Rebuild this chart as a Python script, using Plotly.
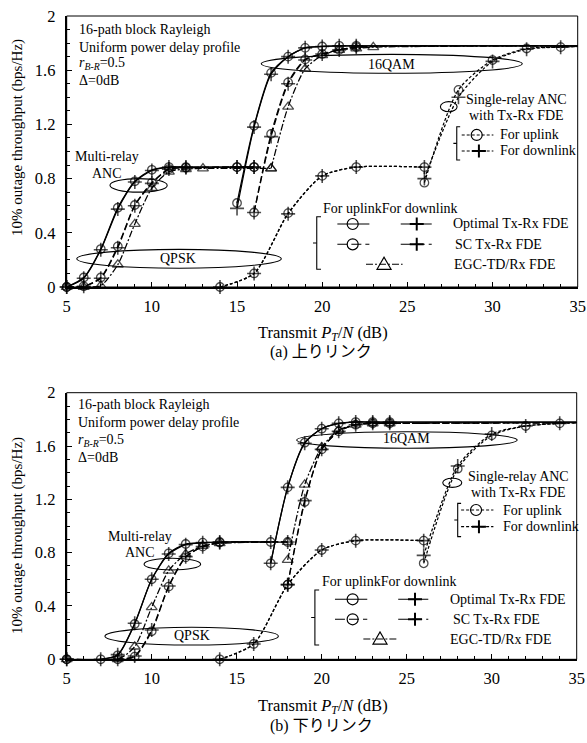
import plotly.graph_objects as go

SERIF = "Liberation Serif, Times New Roman, serif"
JP = "Liberation Serif, Noto Sans CJK JP, sans-serif"

# ---------------- data : panel (a) uplink ----------------
A_OPT_QPSK_X = [5, 6, 7, 8, 9, 10, 11, 12, 15, 16]
A_OPT_QPSK_UP = [0, 0.07, 0.28, 0.585, 0.78, 0.865, 0.885, 0.885, 0.885, 0.885]
A_OPT_QPSK_DN = [0, 0.065, 0.275, 0.575, 0.775, 0.86, 0.885, 0.885, 0.885, 0.885]
A_OPT_QAM_X = [15, 16, 17, 18, 19, 20, 21, 22, 35]
A_OPT_QAM_UP = [0.62, 1.19, 1.58, 1.70, 1.765, 1.775, 1.78, 1.78, 1.78]
A_OPT_QAM_DN = [0.58, 1.18, 1.57, 1.70, 1.765, 1.775, 1.78, 1.78, 1.78]
A_SC_QPSK_X = [5, 6, 7, 8, 9, 10, 11, 12, 15, 16]
A_SC_QPSK_UP = [0, 0.005, 0.07, 0.30, 0.605, 0.77, 0.87, 0.88, 0.885, 0.885]
A_SC_QPSK_DN = [0, 0.005, 0.065, 0.29, 0.60, 0.765, 0.87, 0.88, 0.885, 0.885]
A_SC_QAM_X = [16, 17, 18, 19, 20, 21, 22, 35]
A_SC_QAM_UP = [0.55, 1.13, 1.51, 1.68, 1.72, 1.75, 1.77, 1.78]
A_SC_QAM_DN = [0.55, 1.11, 1.50, 1.675, 1.72, 1.75, 1.77, 1.78]
A_EGC_QPSK_X = [5, 6, 7, 8, 9, 10, 11, 12, 13, 17]
A_EGC_QPSK = [0, 0, 0.01, 0.165, 0.465, 0.73, 0.85, 0.87, 0.875, 0.875]
A_EGC_QAM_X = [17, 18, 19, 20, 21, 22, 23, 35]
A_EGC_QAM = [0.875, 1.33, 1.61, 1.71, 1.75, 1.76, 1.77, 1.78]
A_SR_QPSK_X = [14, 16, 18, 20, 22, 26]
A_SR_QPSK_UP = [0, 0.10, 0.545, 0.82, 0.885, 0.885]
A_SR_QPSK_DN = [0, 0.10, 0.54, 0.82, 0.885, 0.885]
A_SR_QAM_X = [26, 28, 30, 32, 34, 35]
A_SR_QAM_UP = [0.77, 1.455, 1.675, 1.76, 1.77, 1.775]
A_SR_QAM_DN = [0.80, 1.40, 1.665, 1.755, 1.77, 1.775]

# ---------------- data : panel (b) downlink ----------------
B_OPT_QPSK_X = [5, 7, 8, 9, 10, 11, 12, 13, 14, 17]
B_OPT_QPSK_UP = [0, 0, 0.03, 0.265, 0.60, 0.795, 0.865, 0.875, 0.88, 0.88]
B_OPT_QPSK_DN = [0, 0, 0.035, 0.27, 0.60, 0.79, 0.86, 0.875, 0.88, 0.88]
B_OPT_QAM_X = [17, 18, 19, 20, 21, 22, 23, 24, 35]
B_OPT_QAM_UP = [0.72, 1.29, 1.625, 1.73, 1.77, 1.78, 1.78, 1.78, 1.78]
B_OPT_QAM_DN = [0.72, 1.29, 1.62, 1.73, 1.77, 1.78, 1.78, 1.78, 1.78]
B_SC_QPSK_X = [5, 8, 9, 10, 11, 12, 13, 14, 18]
B_SC_QPSK_UP = [0, 0, 0.02, 0.21, 0.545, 0.765, 0.845, 0.875, 0.88]
B_SC_QPSK_DN = [0, 0, 0.025, 0.22, 0.55, 0.77, 0.845, 0.875, 0.88]
B_SC_QAM_X = [18, 19, 20, 21, 22, 23, 24, 35]
B_SC_QAM_UP = [0.56, 1.18, 1.575, 1.71, 1.76, 1.77, 1.77, 1.775]
B_SC_QAM_DN = [0.56, 1.19, 1.575, 1.71, 1.76, 1.77, 1.77, 1.775]
B_EGC_QPSK_X = [5, 8, 9, 10, 11, 12, 13, 14, 18]
B_EGC_QPSK = [0, 0, 0.095, 0.39, 0.665, 0.79, 0.85, 0.87, 0.88]
B_EGC_QAM_X = [18, 19, 20, 21, 22, 23, 24, 35]
B_EGC_QAM = [0.745, 1.31, 1.59, 1.72, 1.76, 1.77, 1.77, 1.775]
B_SR_QPSK_X = [14, 16, 18, 20, 22, 26]
B_SR_QPSK_UP = [0, 0.115, 0.56, 0.82, 0.89, 0.89]
B_SR_QPSK_DN = [0, 0.115, 0.56, 0.82, 0.89, 0.89]
B_SR_QAM_X = [26, 28, 30, 32, 34, 35]
B_SR_QAM_UP = [0.72, 1.43, 1.68, 1.75, 1.77, 1.775]
B_SR_QAM_DN = [0.78, 1.45, 1.69, 1.75, 1.77, 1.775]

X_TICKS = [5, 10, 15, 20, 25, 30, 35]
Y_TICKS = [0, 0.4, 0.8, 1.2, 1.6, 2]
Y_TICK_TEXT = ["0", "0.4", "0.8", "1.2", "1.6", "2"]
X_TITLE = "Transmit <i>P<sub>T</sub></i>/<i>N</i> (dB)"
Y_TITLE = "10% outage throughput (bps/Hz)"
CAPTIONS = ["(a) 上りリンク", "(b) 下りリンク"]

# ---------------- styles ----------------
SOLID = "solid"
DASH = "7px,3px"
DASHDOT = "7px,2px,2px,2px"
SHORT = "3px,2px"
CIRC, PLUS, TRI = "circle-open", "cross-thin-open", "triangle-up-open"
MSIZE = {CIRC: 8.5, PLUS: 10, TRI: 9.5}

W, H = 587, 743
fig = go.Figure()


def add_series(xs, ys, axes, dash, symbol):
    xa, ya = axes
    fig.add_trace(go.Scatter(
        x=xs, y=ys, xaxis=xa, yaxis=ya, mode="lines+markers",
        line=dict(color="black", width=1.25, dash=dash, shape="spline", smoothing=0.7),
        marker=dict(symbol=symbol, size=[0 if x >= 35 else MSIZE[symbol] for x in xs],
                    color="black", line=dict(color="black", width=1.3 if symbol != PLUS else 1.6)),
        cliponaxis=False, showlegend=False, hoverinfo="skip"))


panels = [
    (("x", "y"), [
        (A_OPT_QPSK_X, A_OPT_QPSK_UP, SOLID, CIRC), (A_OPT_QPSK_X, A_OPT_QPSK_DN, SOLID, PLUS),
        (A_OPT_QAM_X, A_OPT_QAM_UP, SOLID, CIRC), (A_OPT_QAM_X, A_OPT_QAM_DN, SOLID, PLUS),
        (A_SC_QPSK_X, A_SC_QPSK_UP, DASH, CIRC), (A_SC_QPSK_X, A_SC_QPSK_DN, DASH, PLUS),
        (A_SC_QAM_X, A_SC_QAM_UP, DASH, CIRC), (A_SC_QAM_X, A_SC_QAM_DN, DASH, PLUS),
        (A_EGC_QPSK_X, A_EGC_QPSK, DASHDOT, TRI), (A_EGC_QAM_X, A_EGC_QAM, DASHDOT, TRI),
        (A_SR_QPSK_X, A_SR_QPSK_UP, SHORT, CIRC), (A_SR_QPSK_X, A_SR_QPSK_DN, SHORT, PLUS),
        (A_SR_QAM_X, A_SR_QAM_UP, SHORT, CIRC), (A_SR_QAM_X, A_SR_QAM_DN, SHORT, PLUS),
    ]),
    (("x2", "y2"), [
        (B_OPT_QPSK_X, B_OPT_QPSK_UP, SOLID, CIRC), (B_OPT_QPSK_X, B_OPT_QPSK_DN, SOLID, PLUS),
        (B_OPT_QAM_X, B_OPT_QAM_UP, SOLID, CIRC), (B_OPT_QAM_X, B_OPT_QAM_DN, SOLID, PLUS),
        (B_SC_QPSK_X, B_SC_QPSK_UP, DASH, CIRC), (B_SC_QPSK_X, B_SC_QPSK_DN, DASH, PLUS),
        (B_SC_QAM_X, B_SC_QAM_UP, DASH, CIRC), (B_SC_QAM_X, B_SC_QAM_DN, DASH, PLUS),
        (B_EGC_QPSK_X, B_EGC_QPSK, DASHDOT, TRI), (B_EGC_QAM_X, B_EGC_QAM, DASHDOT, TRI),
        (B_SR_QPSK_X, B_SR_QPSK_UP, SHORT, CIRC), (B_SR_QPSK_X, B_SR_QPSK_DN, SHORT, PLUS),
        (B_SR_QAM_X, B_SR_QAM_UP, SHORT, CIRC), (B_SR_QAM_X, B_SR_QAM_DN, SHORT, PLUS),
    ]),
]
for axes, series in panels:
    for xs, ys, dash, sym in series:
        add_series(xs, ys, axes, dash, sym)

# ---------------- axes ----------------
XDOM_A = [66.7 / W, 577.7 / W]
XDOM_B = [66.7 / W, 576.7 / W]
YDOM_A = [(H - 287) / H, (H - 16) / H]
YDOM_B = [(H - 659.3) / H, (H - 392.7) / H]


def xax(dom, anchor):
    return dict(domain=dom, anchor=anchor, range=[5, 35], tickvals=X_TICKS, automargin=False,
                ticks="inside", ticklen=5, tickwidth=1, tickcolor="black",
                minor=dict(dtick=1, tick0=5, ticks="inside", ticklen=3, tickcolor="black"),
                showline=True, linewidth=2, linecolor="black", showgrid=False, zeroline=False,
                tickfont=dict(family=SERIF, size=16.5, color="black"), ticklabelstandoff=3)


def yax(dom, anchor):
    return dict(domain=dom, anchor=anchor, range=[0, 2], tickvals=Y_TICKS, ticktext=Y_TICK_TEXT,
                automargin=False,
                ticks="inside", ticklen=5, tickwidth=1, tickcolor="black",
                minor=dict(dtick=0.1, tick0=0, ticks="inside", ticklen=3, tickcolor="black"),
                showline=True, linewidth=2, linecolor="black", showgrid=False, zeroline=False,
                tickfont=dict(family=SERIF, size=16.5, color="black"), ticklabelstandoff=6)


shapes = []
annots = []


def txt(x, y, text, xr, yr, size=14, xanchor="left", font=SERIF, **kw):
    annots.append(dict(x=x, y=y, xref=xr, yref=yr, text=text, showarrow=False,
                       xanchor=xanchor, yanchor="middle",
                       font=dict(family=font, size=size, color="black"), **kw))


def line(x0, y0, x1, y1, xr, yr, dash="solid", width=1.1):
    shapes.append(dict(type="line", x0=x0, y0=y0, x1=x1, y1=y1, xref=xr, yref=yr,
                       line=dict(color="black", width=width, dash=dash)))


def ellipse(x0, x1, y0, y1, xr, yr):
    shapes.append(dict(type="circle", x0=x0, x1=x1, y0=y0, y1=y1, xref=xr, yref=yr,
                       line=dict(color="black", width=1.1)))


def glyph(kind, x, y, xr, yr):
    base = dict(xref=xr, yref=yr, xsizemode="pixel", ysizemode="pixel", xanchor=x, yanchor=y,
                line=dict(color="black", width=1.2))
    if kind == CIRC:
        shapes.append(dict(type="circle", x0=-5.5, x1=5.5, y0=-5.5, y1=5.5, **base))
    elif kind == PLUS:
        b = dict(base)
        b["line"] = dict(color="black", width=2)
        shapes.append(dict(type="path", path="M -7,0 L 7,0 M 0,-6.5 L 0,6.5", **b))
    else:
        shapes.append(dict(type="path", path="M -7,-5 L 7,-5 L 0,7 Z", **base))


def bracket(x, y0, y1, xr, yr, serif=0.25, tick=0.2):
    shapes.append(dict(type="path", xref=xr, yref=yr, line=dict(color="black", width=1.1),
                       path=f"M {x + serif},{y1} L {x},{y1} L {x},{y0} L {x + serif},{y0}"))
    ym = (y0 + y1) / 2
    line(x - tick, ym, x, ym, xr, yr)


# per-panel decoration positions (data coords)
DECOR = [
    dict(xr="x", yr="y",
         info_x=5.62, info_y=[1.902, 1.77, 1.648, 1.525],
         mr_text=(7.35, 0.962, 0.836), mr_ell=(7.54, 10.9, 0.70, 0.80),
         qpsk_ell=(5.59, 17.6, 0.138, 0.278), qpsk_txt=(11.55, 0.208),
         qam_ell=(16.42, 31.75, 1.577, 1.717), qam_txt=(24.04, 1.642),
         sr_txt=(31.42, 1.385, 1.265), sr_ell=(26.94, 27.92, 1.293, 1.368),
         sr_br=(27.9, 0.937, 1.183), sr_rows=(1.122, 1.004), sr_line=(28.19, 30.05), sr_mk=(29.07, 29.2),
         sr_tx=30.34,
         lg_head=(19.95, 0.581), lg_br=(19.68, 0.131, 0.519), lg_rows=(0.465, 0.315, 0.1675),
         lg_c=(20.89, 21.79, 22.77), lg_p=(24.61, 25.55, 26.43), lg_t=(22.57, 23.63, 24.72),
         lg_tx=(27.54, 27.69, 27.6)),
    dict(xr="x2", yr="y2",
         info_x=5.55, info_y=[1.908, 1.775, 1.645, 1.515],
         mr_text=(9.32, 0.92, 0.80), mr_ell=(9.55, 12.88, 0.67, 0.758),
         qpsk_ell=(7.25, 17.45, 0.107, 0.24), qpsk_txt=(12.35, 0.182),
         qam_ell=(18.53, 31.5, 1.583, 1.707), qam_txt=(25.0, 1.658),
         sr_txt=(31.56, 1.375, 1.25), sr_ell=(27.12, 28.24, 1.29, 1.358),
         sr_br=(28.0, 0.92, 1.17), sr_rows=(1.12, 0.995), sr_line=(28.2, 30.1), sr_mk=(29.08, 29.25),
         sr_tx=30.53,
         lg_head=(19.9, 0.582), lg_br=(19.6, 0.107, 0.52), lg_rows=(0.45, 0.30, 0.152),
         lg_c=(20.78, 21.82, 22.68), lg_p=(24.5, 25.49, 26.27), lg_t=(22.45, 23.43, 24.5),
         lg_tx=(27.45, 27.59, 27.45)),
]

INFO_LINES = ["16-path block Rayleigh", "Uniform power delay profile",
              "<i>r</i><sub><i>B-R</i></sub>=0.5", "Δ=0dB"]
LEG_TEXT = ["Optimal Tx-Rx FDE", "SC Tx-Rx FDE", "EGC-TD/Rx FDE"]

for d in DECOR:
    xr, yr = d["xr"], d["yr"]
    for t, yy in zip(INFO_LINES, d["info_y"]):
        txt(d["info_x"], yy, t, xr, yr, size=14)
    mx, my1, my2 = d["mr_text"]
    txt(mx, my1, "Multi-relay", xr, yr, xanchor="center")
    txt(mx, my2, "ANC", xr, yr, xanchor="center")
    ellipse(*d["mr_ell"], xr, yr)
    ellipse(*d["qpsk_ell"], xr, yr)
    txt(*d["qpsk_txt"], "QPSK", xr, yr, xanchor="center")
    ellipse(*d["qam_ell"], xr, yr)
    txt(*d["qam_txt"], "16QAM", xr, yr, xanchor="center")
    sx, sy1, sy2 = d["sr_txt"]
    txt(sx, sy1, "Single-relay ANC", xr, yr, xanchor="center")
    txt(sx, sy2, "with Tx-Rx FDE", xr, yr, xanchor="center")
    ex0, ex1, ey0, ey1 = d["sr_ell"]
    ellipse(ex0, ex1, ey0, ey1, xr, yr)
    bx, by0, by1 = d["sr_br"]
    bracket(bx, by0, by1, xr, yr, serif=0.2, tick=0.2)
    (r1, r2), (lx0, lx1) = d["sr_rows"], d["sr_line"]
    line(lx0, r1, lx1, r1, xr, yr, dash=SHORT)
    glyph(CIRC, d["sr_mk"][0], r1, xr, yr)
    txt(d["sr_tx"], r1, "For uplink", xr, yr)
    line(lx0, r2, lx1, r2, xr, yr, dash=SHORT)
    glyph(PLUS, d["sr_mk"][1], r2, xr, yr)
    txt(d["sr_tx"], r2, "For downlink", xr, yr)
    # main legend
    txt(*d["lg_head"], "For uplinkFor downlink", xr, yr)
    bracket(*d["lg_br"], xr, yr, serif=0.25, tick=0.22)
    rows = d["lg_rows"]
    c0, cm, c1 = d["lg_c"]
    p0, pm, p1 = d["lg_p"]
    t0, tm, t1 = d["lg_t"]
    for i, dash in enumerate([SOLID, "10px,4px"]):
        line(c0, rows[i], c1, rows[i], xr, yr, dash=dash)
        glyph(CIRC, cm, rows[i], xr, yr)
        line(p0, rows[i], p1, rows[i], xr, yr, dash=dash)
        glyph(PLUS, pm, rows[i], xr, yr)
    line(t0, rows[2], t1, rows[2], xr, yr, dash=DASHDOT)
    glyph(TRI, tm, rows[2], xr, yr)
    for i in range(3):
        txt(d["lg_tx"][i], rows[i], LEG_TEXT[i], xr, yr)

# frames (thin top/right border)
for xr, yr in [("x", "y"), ("x2", "y2")]:
    shapes.append(dict(type="rect", xref=f"{xr} domain", yref=f"{yr} domain",
                       x0=0, x1=1, y0=0, y1=1, line=dict(color="black", width=1)))

# titles and captions (paper coordinates)
for i, (ytit, ycap, ymid) in enumerate([(333, 352, 138), (706, 726, 536)]):
    txt(322.5 / W, (H - ytit) / H, X_TITLE, "paper", "paper", size=16.5, xanchor="center")
    txt(321 / W, (H - ycap) / H, CAPTIONS[i], "paper", "paper", size=16, xanchor="center", font=JP)
    txt(17 / W, (H - ymid) / H, Y_TITLE, "paper", "paper", size=15, xanchor="center",
        textangle=-90)

fig.update_layout(
    template="none",
    width=W, height=H, margin=dict(l=0, r=0, t=0, b=0, autoexpand=False),
    paper_bgcolor="white", plot_bgcolor="white", showlegend=False,
    xaxis=xax(XDOM_A, "y"), yaxis=yax(YDOM_A, "x"),
    xaxis2=xax(XDOM_B, "y2"), yaxis2=yax(YDOM_B, "x2"),
    shapes=shapes, annotations=annots,
    font=dict(family=SERIF, color="black"),
)
fig.write_html("out.html", config={"displayModeBar": False},
               post_script="document.body.style.margin='0';document.body.style.overflow='hidden';")
